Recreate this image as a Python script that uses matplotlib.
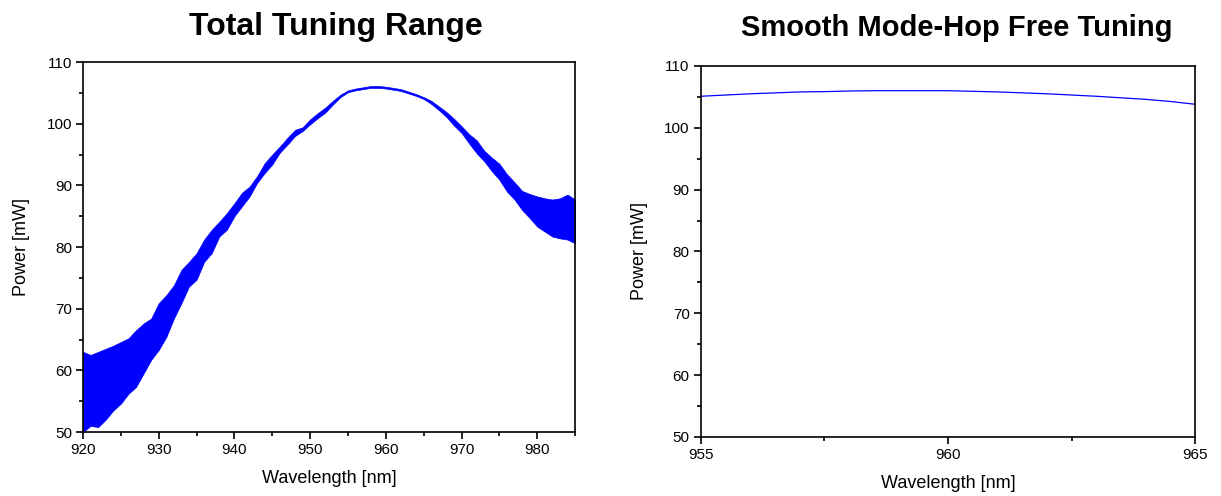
import numpy as np
import matplotlib
matplotlib.use("Agg")
import matplotlib.pyplot as plt
from matplotlib.ticker import MultipleLocator

plt.rcParams["font.family"] = ["Liberation Sans", "DejaVu Sans"]

# left panel: envelope of the noisy power trace
wl_total = [920, 921, 922, 923, 924, 925, 926, 927, 928, 929, 930, 931, 932, 933,
            934, 935, 936, 937, 938, 939, 940, 941, 942, 943, 944, 945, 946, 947,
            948, 949, 950, 951, 952, 953, 954, 955, 956, 957, 958, 959, 960, 961,
            962, 963, 964, 965, 966, 967, 968, 969, 970, 971, 972, 973, 974, 975,
            976, 977, 978, 979, 980, 981, 982, 983, 984, 985]
p_upper = [63.0, 62.5, 63.0, 63.5, 64.0, 64.6, 65.2, 66.5, 67.6, 68.4, 70.9, 72.2,
           73.8, 76.3, 77.6, 79.0, 81.2, 82.8, 84.1, 85.5, 87.1, 88.8, 89.8, 91.5,
           93.6, 95.0, 96.3, 97.7, 99.0, 99.4, 100.7, 101.7, 102.6, 103.7, 104.7,
           105.4, 105.7, 105.9, 106.1, 106.1, 106.0, 105.8, 105.6, 105.2, 104.8,
           104.3, 103.7, 102.8, 101.9, 100.8, 99.6, 98.3, 97.3, 95.6, 94.5, 93.5,
           91.8, 90.5, 89.1, 88.6, 88.2, 87.9, 87.7, 87.9, 88.5, 87.7]
p_lower = [50.0, 51.0, 50.8, 52.0, 53.5, 54.6, 56.2, 57.3, 59.5, 61.7, 63.3, 65.4,
           68.4, 70.9, 73.6, 74.7, 77.6, 79.0, 81.7, 82.8, 85.0, 86.6, 88.2, 90.4,
           92.0, 93.4, 95.3, 96.6, 98.0, 98.8, 99.9, 100.9, 101.8, 103.1, 104.3,
           105.1, 105.4, 105.6, 105.8, 105.8, 105.7, 105.5, 105.3, 104.9, 104.5,
           104.0, 103.2, 102.2, 101.1, 99.7, 98.5, 96.8, 95.2, 93.9, 92.3, 90.9,
           89.0, 87.7, 86.0, 84.7, 83.3, 82.5, 81.7, 81.4, 81.2, 80.6]

# right panel: mode-hop free scan
wl_mhf = [955, 955.5, 956, 956.5, 957, 957.5, 958, 958.5, 959, 959.5, 960, 960.5,
          961, 961.5, 962, 962.5, 963, 963.5, 964, 964.5, 965]
p_mhf = [105.1, 105.3, 105.5, 105.65, 105.8, 105.85, 105.95, 106.0, 106.0, 106.0,
         106.0, 105.9, 105.8, 105.65, 105.5, 105.3, 105.1, 104.85, 104.6, 104.25,
         103.8]

BLUE = "#0000ff"

fig = plt.figure(figsize=(12.21, 4.96), dpi=100)
ax1 = fig.add_axes([0.068, 0.129, 0.403, 0.746])
ax2 = fig.add_axes([0.574, 0.119, 0.405, 0.748])


def style_axis(ax, xmin, xmax, xmajor, xminor):
    ax.set_xlim(xmin, xmax)
    ax.set_ylim(50, 110)
    ax.xaxis.set_major_locator(MultipleLocator(xmajor))
    ax.xaxis.set_minor_locator(MultipleLocator(xminor))
    ax.yaxis.set_major_locator(MultipleLocator(10))
    ax.yaxis.set_minor_locator(MultipleLocator(5))
    ax.tick_params(which="both", direction="out", top=False, right=False,
                   labelsize=11, width=1.2, pad=3)
    ax.tick_params(which="major", length=5)
    ax.tick_params(which="minor", length=3)
    for s in ax.spines.values():
        s.set_linewidth(1.2)
    ax.set_xlabel("Wavelength [nm]", fontsize=13, labelpad=9)
    ax.set_ylabel("Power [mW]", fontsize=13, labelpad=12)


ax1.fill_between(wl_total, p_lower, p_upper, color=BLUE, linewidth=0.5,
                 edgecolor=BLUE)
style_axis(ax1, 920, 985, 10, 5)
ax1.set_title("Total Tuning Range", fontsize=23, fontweight="bold", pad=19.5, x=0.514)

ax2.plot(wl_mhf, p_mhf, color=BLUE, linewidth=0.9)
style_axis(ax2, 955, 965, 5, 2.5)
ax2.set_title("Smooth Mode-Hop Free Tuning", fontsize=21, fontweight="bold", pad=21.5,
              x=0.518)

fig.savefig("out.png", dpi=100)
